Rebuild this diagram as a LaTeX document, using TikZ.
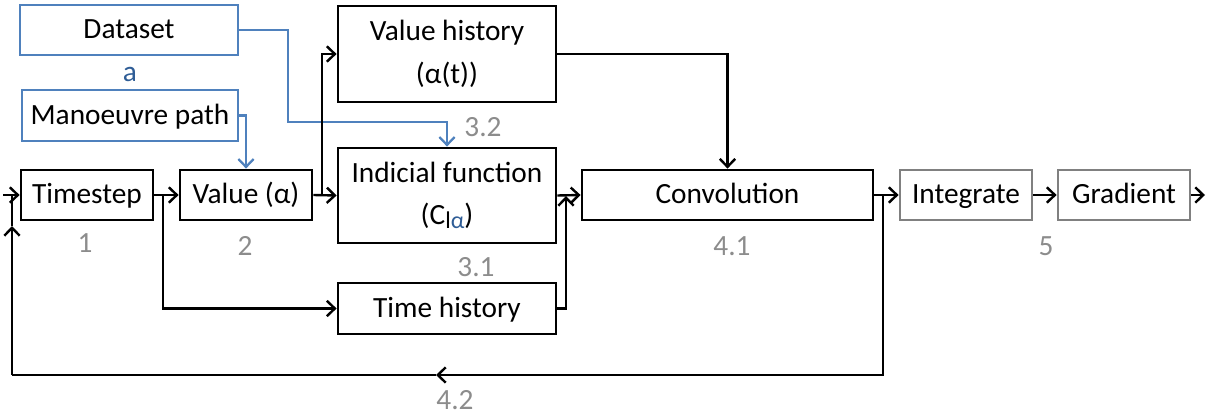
\documentclass[tikz,border=0pt]{standalone}
\usepackage{fontspec}
\setmainfont{Carlito}
\usetikzlibrary{arrows.meta}
\definecolor{ablue}{HTML}{4F81BD}
\definecolor{adark}{HTML}{2F5D96}
\definecolor{agray}{HTML}{808080}
\definecolor{lgray}{HTML}{8C8C8C}
\begin{document}
\begin{tikzpicture}[x=0.75pt,y=-0.75pt,
  font=\fontsize{22}{32}\selectfont,
  box/.style={draw=black,line width=2.1pt,inner sep=0pt,align=center,minimum height=37.5pt},
  one/.style={text height=15pt,text depth=2pt},
  bbox/.style={box,one,draw=ablue,line width=1.9pt},
  gbox/.style={box,one,draw=agray},
  conn/.style={line width=1.8pt},
  arr/.style={conn,-{Straight Barb[length=6pt,width=11.5pt]}},
  barr/.style={arr,draw=ablue,line width=1.7pt},
  lab/.style={text=lgray,inner sep=0pt}]
\useasboundingbox (0,0) rectangle (1207,417);
% nodes
\node[bbox,minimum width=163.5pt] (ds) at (129,30) {Dataset};
\node[text=adark,inner sep=0pt] (la) at (130,74) {a};
\node[bbox,minimum width=162pt,minimum height=38.25pt] (mp) at (130,115.5) {Manoeuvre path};
\node[box,minimum width=163.5pt,minimum height=72pt] (vh) at (447,54) {Value history\\(α(t))};
\node[box,one,minimum width=99pt] (ts) at (87,195) {Timestep};
\node[box,one,minimum width=99pt] (va) at (246,195) {Value (α)};
\node[box,minimum width=163.5pt,minimum height=71.25pt] (ind) at (447,195.5) {Indicial function\\(C{\fontsize{18}{18}\selectfont\raisebox{-3pt}{l{\color{adark}α}}})};
\node[box,one,minimum width=163.5pt,minimum height=38.25pt] (th) at (447,308.5) {Time history};
\node[box,one,minimum width=218.25pt] (cv) at (727.5,195) {Convolution};
\node[gbox,minimum width=99pt] (ig) at (966,195) {Integrate};
\node[gbox,minimum width=99pt] (gr) at (1124,195) {Gradient};
% labels
\node[lab] (l1) at (85,243) {1};
\node[lab] (l2) at (245,246) {2};
\node[lab] (l32) at (483,127) {3.2};
\node[lab] (l31) at (476,267) {3.1};
\node[lab] (l41) at (732,246) {4.1};
\node[lab] (l5) at (1046,246) {5};
\node[lab] (l42) at (455,400) {4.2};
% coordinates
\coordinate (in) at (3,195);
\coordinate (j0) at (12,195);
\coordinate (j1) at (163,195);
\coordinate (j2) at (322,195);
\coordinate (j3) at (566,196);
\coordinate (j4) at (883,195);
\coordinate (b1) at (288,122);
\coordinate (c0) at (883,375);
\coordinate (m1) at (436,375);
\coordinate (c1) at (12,375);
\coordinate (m2) at (12,226);
\coordinate (out) at (1205,195);
% blue connectors
\draw[barr] (ds.east) -| (b1) -| (ind.north);
\draw[barr] (mp.east) -| (va.north);
% black connectors
\draw[arr] (in) -- (ts.west);
\draw[arr] (ts.east) -- (va.west);
\draw[arr] (j1) |- (th.west);
\draw[arr] (va.east) -- (ind.west);
\draw[arr] (j2) |- (vh.west);
\draw[arr] (ind.east) -- (cv.west);
\draw[arr] (th.east) -| (j3);
\draw[arr] (vh.east) -| (cv.north);
\draw[arr] (cv.east) -- (ig.west);
\draw[arr] (ig.east) -- (gr.west);
\draw[arr] (gr.east) -- (out);
\draw[arr] (j4) -- (c0) -- (m1);
\draw[conn] (m1) -- (c1);
\draw[arr] (c1) -- (m2);
\draw[conn] (m2) -- (j0);
\end{tikzpicture}
\end{document}
